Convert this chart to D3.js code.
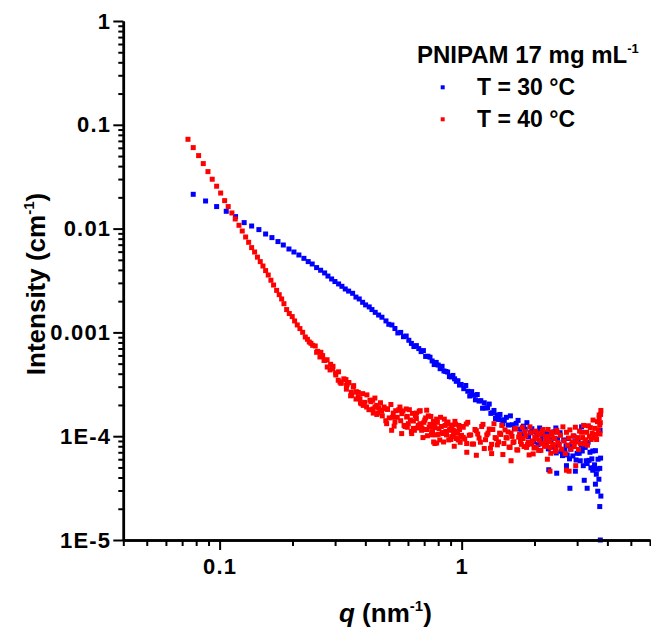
<!DOCTYPE html>
<html>
<head>
<meta charset="utf-8">
<script src="https://cdn.jsdelivr.net/npm/d3@7/dist/d3.min.js"></script>
<style>
    body { margin: 0; background: #fff; }
    text { font-family: Arial, "Liberation Sans", sans-serif; font-weight: bold; fill: #000; }
</style>
</head>
<body>
<script>
    // SAXS curves, [q (nm-1), intensity (cm-1)]
    var t30 = [
        [0.0778,0.0214],[0.0875,0.01845],[0.0972,0.0163],[0.1065,0.01468],[0.1164,0.01305],[0.1263,0.01142],
        [0.1356,0.01059],[0.1453,0.00978],[0.1549,0.00887],[0.1645,0.00819],[0.1742,0.00750],[0.1833,0.00695],
        [0.1934,0.00636],[0.2028,0.00595],[0.2126,0.00557],[0.2230,0.00517],[0.2323,0.00481],[0.2413,0.00456],
        [0.2516,0.00421],[0.2614,0.00397],[0.2716,0.00374],[0.2803,0.00349],[0.2903,0.00327],[0.2995,0.00309],
        [0.3102,0.00293],[0.3201,0.00278],[0.3304,0.00262],[0.3412,0.00250],[0.3544,0.00238],[0.3658,0.00219],
        [0.3775,0.00210],[0.3898,0.00195],[0.4011,0.00184],[0.4151,0.00176],[0.4259,0.00166],[0.4395,0.00156],
        [0.4539,0.00147],[0.4684,0.00140],[0.4867,0.00129],
        [0.500,0.001197],[0.515,0.001179],[0.530,0.001090],[0.545,0.000988],[0.560,0.001000],[0.575,0.000909],
        [0.590,0.000923],[0.605,0.000840],[0.620,0.000783],[0.635,0.000731],[0.650,0.000746],[0.665,0.000698],
        [0.680,0.000653],[0.695,0.000668],[0.710,0.000587],[0.725,0.000589],[0.740,0.000577],[0.755,0.000531],
        [0.770,0.000490],[0.785,0.000514],[0.800,0.000485],[0.815,0.000447],[0.830,0.000471],[0.845,0.000425],
        [0.860,0.000420],[0.875,0.000415],[0.890,0.000376],[0.905,0.000372],[0.920,0.000385],[0.935,0.000357],
        [0.950,0.000338],[0.965,0.000342],[0.980,0.000311],[0.995,0.000315],
        [1.02,2.87e-4],[1.04,3.08e-4],[1.06,2.71e-4],[1.08,2.44e-4],[1.10,2.69e-4],[1.12,2.48e-4],[1.14,2.24e-4],
        [1.16,2.52e-4],[1.18,2.18e-4],[1.20,2.20e-4],[1.22,1.86e-4],[1.24,2.10e-4],[1.26,1.87e-4],[1.28,1.88e-4],
        [1.30,2.04e-4],[1.32,1.66e-4],[1.34,1.68e-4],[1.36,1.77e-4],[1.38,1.48e-4],[1.40,1.60e-4],[1.42,1.45e-4],
        [1.44,1.62e-4],[1.46,1.44e-4],[1.48,1.31e-4],[1.50,1.42e-4],
        [1.53,1.52e-4],[1.56,1.28e-4],[1.59,1.57e-4],[1.62,1.29e-4],[1.65,1.18e-4],[1.68,1.33e-4],[1.71,1.42e-4],
        [1.74,1.17e-4],[1.77,1.05e-4],[1.80,1.25e-4],[1.83,1.17e-4],[1.86,1.35e-4],[1.89,9.9e-5],[1.92,1.08e-4],
        [1.95,1.18e-4],[1.98,8.8e-5],[2.01,1.11e-4],[2.04,9.9e-5],[2.07,8.3e-5],[2.10,1.20e-4],[2.13,9.1e-5],
        [2.16,1.01e-4],[2.19,8.35e-5],[2.22,1.08e-4],[2.25,8.9e-5],[2.28,7.55e-5],[2.31,1.07e-4],[2.34,9.25e-5],
        [2.37,7.85e-5],[2.40,1.10e-4],[2.43,8.0e-5],[2.46,6.9e-5],[2.49,9.4e-5],[2.52,8.3e-5],[2.55,1.08e-4],
        [2.58,7.15e-5],[2.61,6.5e-5],[2.64,9.2e-5],[2.67,7.3e-5],[2.70,8.1e-5],[2.73,6.6e-5],[2.76,9.5e-5],
        [2.79,6.05e-5],[2.82,7.5e-5],[2.85,8.3e-5],[2.88,6.45e-5],[2.91,1.0e-4],[2.94,8.85e-5],[2.97,5.9e-5],
        [3.00,6.85e-5],[3.03,9.0e-5],[3.06,6.85e-5],[3.09,5.8e-5],[3.12,7.8e-5],[3.15,7.2e-5],[3.18,5.2e-5],
        [3.21,8.6e-5],[3.24,7.8e-5],[3.27,5.8e-5],[3.30,5.45e-5],[3.33,8.75e-5],[3.36,5.85e-5],[3.39,7.0e-5],
        [3.42,4.95e-5],[3.45,6.05e-5],[3.48,7.2e-5],[3.51,4.95e-5],[3.54,5.3e-5],[3.57,7.25e-5],[3.60,4.3e-5],
        [3.63,4.8e-5],[3.66,6.0e-5],[3.69,3.85e-5],[3.72,4.9e-5],[3.75,6.15e-5],
        [2.80,3.15e-5],[2.95,4.6e-5],[3.21,3.76e-5],[3.30,3.15e-5],[3.57,3.45e-5],[3.65,2.95e-5],[3.76,2.65e-5],
        [3.72,2.1e-5],[3.74,1.0e-5],[2.29,4.75e-5],[2.47,4.4e-5],[2.71,5.2e-5],[3.48,4.7e-5],[2.45,1.2e-4],
        [3.13,1.23e-4],[3.73,1.14e-4],[2.10,1.12e-4]
    ];

    var t40 = [
        [0.0740,0.0725],[0.0778,0.0603],[0.0819,0.0505],[0.0856,0.0423],[0.0895,0.0354],[0.0932,0.0299],
        [0.0972,0.0256],[0.1010,0.0220],[0.1049,0.0186],[0.1085,0.0163],[0.1124,0.01414],[0.1160,0.01238],
        [0.1202,0.01076],[0.1240,0.00948],[0.1281,0.00830],[0.1318,0.00738],[0.1356,0.00656],[0.1395,0.00595],
        [0.1433,0.00531],[0.1472,0.00481],[0.1510,0.00436],[0.1549,0.00394],[0.1588,0.00357],[0.1629,0.00318],
        [0.1671,0.00286],[0.1720,0.00254],[0.1763,0.00231],[0.1804,0.00210],[0.1844,0.00189],[0.1892,0.00166],
        [0.1940,0.00152],[0.1995,0.00142],[0.2041,0.00129],[0.2093,0.00118],[0.2147,0.001088],[0.2203,0.001002],
        [0.2259,0.000903],
        [0.2306,0.000858],[0.2346,0.000808],[0.2384,0.000785],[0.2423,0.000751],[0.2483,0.000740],[0.2516,0.000643],
        [0.2597,0.000580],[0.2665,0.000598],[0.2724,0.000538],[0.2784,0.000464],[0.2875,0.000493],[0.2930,0.000448],
        [0.3015,0.000407],[0.3091,0.000346],[0.3142,0.000333],[0.3171,0.000326],[0.3326,0.000351],[0.3346,0.000309],
        [0.3368,0.000317],[0.3477,0.000245],[0.3512,0.000248],[0.3566,0.000298],[0.3658,0.000267],[0.3681,0.000267],
        [0.3739,0.000236],[0.3800,0.000229],[0.3862,0.000205],[0.3921,0.000198],[0.4050,0.000191],[0.4180,0.000222],
        [0.4288,0.000222],[0.4313,0.000167],[0.4383,0.000191],[0.4455,0.000198],[0.4509,0.000167],[0.4598,0.000178],
        [0.4672,0.000174],[0.4867,0.000184],[0.4899,0.000132],[0.5137,0.000114],[0.5217,0.000167],[0.5302,0.000137],
        [0.5560,0.000191],[0.5560,0.000178],[0.5651,0.000106],[0.5926,0.000153],[0.5960,0.000122],[0.6215,0.000106],
        [0.6310,0.000119],[0.6516,0.000167],[0.6725,0.000132],[0.6834,0.000114],[0.7169,0.000178],[0.7516,0.000109],
        [0.7631,0.000122],[0.7660,0.000088],[0.7750,0.000085],[0.7883,0.000086],[0.8394,0.000106],[0.8670,0.000132],
        [0.9094,0.000099],[0.9234,0.000114],[0.9535,0.000107],[1.0153,0.000122],[1.0488,0.000085],
        [0.254,6.57e-4],[0.262,6.43e-4],[0.270,5.38e-4],[0.278,5.45e-4],[0.286,4.35e-4],[0.294,4.71e-4],
        [0.302,3.89e-4],[0.310,4.17e-4],[0.318,3.24e-4],[0.326,3.57e-4],[0.334,2.84e-4],[0.342,3.29e-4],
        [0.350,2.65e-4],[0.358,3.07e-4],[0.366,2.28e-4],[0.374,2.64e-4],[0.382,2.09e-4],[0.390,2.57e-4],
        [0.398,2.12e-4],[0.406,2.50e-4],[0.414,1.80e-4],[0.422,2.15e-4],[0.430,1.83e-4],[0.438,2.33e-4],
        [0.446,1.62e-4],[0.454,1.88e-4],[0.462,2.10e-4],[0.470,1.57e-4],[0.478,1.91e-4],[0.486,1.41e-4],
        [0.494,1.81e-4],[0.502,1.50e-4],[0.510,2.02e-4],[0.518,1.52e-4],[0.526,1.25e-4],[0.534,1.76e-4],
        [0.542,1.52e-4],[0.550,1.80e-4],
        [0.560,1.41e-4],[0.572,1.75e-4],[0.584,1.24e-4],[0.596,1.55e-4],[0.608,1.80e-4],[0.620,1.11e-4],
        [0.632,1.40e-4],[0.644,1.58e-4],[0.656,1.20e-4],[0.668,1.74e-4],[0.680,1.28e-4],[0.692,9.7e-5],
        [0.704,1.43e-4],[0.716,1.16e-4],[0.728,1.57e-4],[0.740,1.30e-4],[0.752,1.03e-4],[0.764,1.39e-4],
        [0.776,1.21e-4],[0.788,1.46e-4],[0.800,1.04e-4],[0.812,9.2e-5],[0.824,1.24e-4],[0.836,1.08e-4],
        [0.848,1.46e-4],[0.860,1.11e-4],[0.872,1.31e-4],[0.884,9.2e-5],[0.896,1.16e-4],[0.908,1.24e-4],
        [0.920,9.9e-5],[0.932,8.0e-5],[0.944,1.30e-4],[0.956,1.08e-4],[0.968,9.2e-5],[0.980,1.16e-4],[0.992,9.97e-5],
        [0.566,1.65e-4],[0.578,1.27e-4],[0.590,1.83e-4],[0.602,1.32e-4],[0.614,1.43e-4],[0.626,1.66e-4],
        [0.638,1.14e-4],[0.650,1.48e-4],[0.662,1.27e-4],[0.674,1.76e-4],[0.686,1.19e-4],[0.698,1.36e-4],
        [0.710,1.50e-4],[0.722,1.01e-4],[0.734,1.22e-4],[0.746,1.55e-4],[0.758,1.10e-4],[0.770,1.30e-4],
        [0.782,1.03e-4],[0.794,1.36e-4],[0.806,1.18e-4],[0.818,1.52e-4],[0.830,1.08e-4],[0.842,8.8e-5],
        [0.854,1.27e-4],[0.866,1.03e-4],[0.878,1.37e-4],[0.890,1.14e-4],[0.902,9.3e-5],[0.914,1.28e-4],
        [0.926,1.07e-4],[0.938,1.39e-4],[0.950,9.5e-5],[0.962,1.12e-4],[0.974,1.27e-4],[0.986,8.73e-5],[0.998,1.02e-4],
        [1.00,1.24e-4],[1.03,9.4e-5],[1.06,1.36e-4],[1.09,1.03e-4],[1.12,8.4e-5],[1.15,1.13e-4],[1.18,9.6e-5],
        [1.21,1.24e-4],[1.24,7.6e-5],[1.27,1.03e-4],[1.30,1.17e-4],[1.33,8.35e-5],[1.36,1.32e-4],[1.39,9.45e-5],
        [1.42,8.8e-5],[1.45,1.04e-4],[1.48,6.66e-5],[1.51,1.15e-4],[1.54,9.6e-5],[1.57,7.85e-5],[1.60,1.07e-4],
        [1.63,8.7e-5],[1.66,1.18e-4],[1.69,7.4e-5],[1.72,9.8e-5],[1.75,8.9e-5],[1.78,1.22e-4],[1.81,7.95e-5],
        [1.84,1.01e-4],[1.87,8.3e-5],[1.90,6.6e-5],[1.93,1.08e-4],[1.96,9.0e-5],[1.99,7.7e-5],[2.02,1.12e-4],
        [2.05,9.4e-5],[2.08,7.3e-5],[2.11,1.04e-4],[2.14,8.5e-5],[2.17,1.16e-4],[2.20,8.0e-5],[2.23,9.1e-5],
        [2.26,6.0e-5],[2.29,9.97e-5],[2.32,7.8e-5],[2.35,1.09e-4],[2.38,8.35e-5],[2.41,9.5e-5],[2.44,7.15e-5],
        [2.47,1.14e-4],[2.50,8.7e-5],[2.53,8.2e-5],[2.56,1.02e-4],[2.59,7.5e-5],[2.62,1.23e-4],[2.65,9.0e-5],
        [2.68,6.8e-5],[2.71,1.09e-4],[2.74,8.2e-5],[2.77,9.6e-5],[2.80,1.15e-4],[2.83,7.5e-5],[2.86,8.8e-5],
        [2.89,1.01e-4],[2.92,7.95e-5],[2.95,1.22e-4],[2.98,8.8e-5],[3.01,9.7e-5],[3.04,7.45e-5],[3.07,1.12e-4],
        [3.10,8.5e-5],[3.13,1.09e-4],[3.16,9.7e-5],[3.19,1.27e-4],[3.22,8.4e-5],[3.25,9.25e-5],[3.28,1.09e-4],
        [3.31,8.2e-5],[3.34,1.26e-4],[3.37,9.97e-5],[3.40,1.21e-4],[3.43,9.3e-5],[3.46,1.07e-4],[3.49,1.43e-4],
        [3.52,9.7e-5],[3.55,1.19e-4],[3.58,1.04e-4],[3.61,9.3e-5],[3.64,1.38e-4],[3.67,1.15e-4],[3.70,1.5e-4],
        [3.73,1.05e-4],[3.76,1.77e-4],
        [1.015,9.75e-5],[1.045,1.31e-4],[1.075,1.02e-4],[1.105,8.4e-5],[1.135,1.16e-4],[1.165,1.05e-4],
        [1.195,8.75e-5],[1.225,1.30e-4],[1.255,9.25e-5],[1.285,1.07e-4],[1.315,7.65e-5],[1.345,1.16e-4],
        [1.375,9.7e-5],[1.405,8.25e-5],[1.435,1.07e-4],[1.465,1.27e-4],[1.495,8.5e-5],[1.525,9.7e-5],
        [1.555,1.10e-4],[1.585,7.8e-5],[1.615,9.95e-5],[1.645,8.85e-5],[1.675,1.18e-4],[1.705,7.35e-5],
        [1.735,1.04e-4],[1.765,8.35e-5],[1.795,9.5e-5],[1.825,1.11e-4],[1.855,7.8e-5],[1.885,8.8e-5],
        [1.915,1.23e-4],[1.945,8.4e-5],[1.975,6.75e-5],[2.005,9.8e-5],[2.035,7.8e-5],[2.065,1.07e-4],
        [2.095,9.1e-5],[2.125,7.3e-5],[2.155,1.11e-4],[2.185,8.55e-5],[2.215,9.97e-5],[2.245,8.0e-5],
        [2.275,1.16e-4],[2.305,8.9e-5],[2.335,6.85e-5],[2.365,1.04e-4],[2.395,8.2e-5],[2.425,9.55e-5],
        [2.455,7.45e-5],[2.485,1.09e-4],
        [1.05,7.0e-5],[1.15,6.55e-5],[1.33,6.8e-5],[1.60,5.8e-5],[2.317,4.6e-5],[2.71,4.7e-5],[2.78,4.6e-5],
        [2.96,5.2e-5],[3.70,1.60e-4],[3.74,1.35e-4],[3.72,1.28e-4],[3.75,1.62e-4]
    ];

    // Axes: ticks and labels
    var xMajor = [0.1, 1];
    var xLabels = ["0.1", "1"];
    var xMinor = [0.04, 0.05, 0.06, 0.07, 0.08, 0.09, 0.2, 0.3, 0.4, 0.5, 0.6, 0.7, 0.8, 0.9, 2, 3, 4, 5, 6];
    var yMajor = [1e-5, 1e-4, 1e-3, 1e-2, 0.1, 1];
    var yLabels = ["1E-5", "1E-4", "0.001", "0.01", "0.1", "1"];

    var series = [
        {name: "T = 30 \u00B0C", color: "#0000ff", data: t30},
        {name: "T = 40 \u00B0C", color: "#ff0000", data: t40}
    ];

    var SVGWidth = 651, SVGHeight = 630;

    var x = d3.scaleLog().domain([0.04, 6]).range([123.3, 650]);
    var y = d3.scaleLog().domain([1e-5, 1]).range([540, 21]);

    var svg = d3.select("body").append("svg")
        .attr("width", SVGWidth)
        .attr("height", SVGHeight);

    // Points (blue first, red on top)
    var ms = 5;
    series.forEach(function(s) {
        svg.append("g").selectAll("rect")
            .data(s.data)
            .enter().append("rect")
            .attr("x", function(d) { return x(d[0]) - ms / 2; })
            .attr("y", function(d) { return y(d[1]) - ms / 2; })
            .attr("width", ms)
            .attr("height", ms)
            .attr("fill", s.color);
    });

    // Y axis
    svg.append("g")
        .attr("transform", "translate(123.3,0)")
        .call(d3.axisLeft(y).tickValues(yMajor).tickFormat(function(d, i) { return yLabels[i]; })
            .tickSize(10).tickSizeOuter(0).tickPadding(2));
    svg.append("g")
        .attr("transform", "translate(123.3,0)")
        .call(d3.axisLeft(y).tickValues(d3.merge(yMajor.slice(0, 5).map(function(d) {
                return [2, 3, 4, 5, 6, 7, 8, 9].map(function(k) { return d * k; });
            }))).tickFormat("").tickSize(5).tickSizeOuter(0));

    // X axis
    svg.append("g")
        .attr("transform", "translate(0,540)")
        .call(d3.axisBottom(x).tickValues(xMajor).tickFormat(function(d, i) { return xLabels[i]; })
            .tickSize(10).tickSizeOuter(0).tickPadding(8));
    svg.append("g")
        .attr("transform", "translate(0,540)")
        .call(d3.axisBottom(x).tickValues(xMinor).tickFormat("").tickSize(6).tickSizeOuter(0));

    svg.selectAll(".domain").attr("stroke", "#000").attr("stroke-width", 2.5);
    svg.selectAll(".tick line").attr("stroke", "#000").attr("stroke-width", 2);
    svg.selectAll(".tick text")
        .style("font-size", "22px")
        .style("letter-spacing", "1.2px")
        .attr("fill", "#000");

    // Axis titles
    var yt = svg.append("text")
        .attr("transform", "translate(45,284) rotate(-90)")
        .attr("text-anchor", "middle")
        .style("font-size", "26px");
    yt.append("tspan").text("Intensity (cm");
    yt.append("tspan").attr("dy", -11).style("font-size", "15px").text("-1");
    yt.append("tspan").attr("dy", 11).text(")");

    var xt = svg.append("text")
        .attr("x", 339)
        .attr("y", 622)
        .style("font-size", "26px");
    xt.append("tspan").style("font-style", "italic").text("q");
    xt.append("tspan").text(" (nm");
    xt.append("tspan").attr("dy", -11).style("font-size", "15px").text("-1");
    xt.append("tspan").attr("dy", 11).text(")");

    // Legend
    var lt = svg.append("text")
        .attr("x", 417)
        .attr("y", 63)
        .style("font-size", "24px");
    lt.append("tspan").text("PNIPAM 17 mg mL");
    lt.append("tspan").attr("dy", -10).style("font-size", "13px").text("-1");

    series.forEach(function(s, i) {
        var ly = 87.3 + i * 32;
        svg.append("rect")
            .attr("x", 442.7 - 2)
            .attr("y", ly - 2)
            .attr("width", 4)
            .attr("height", 4)
            .attr("fill", s.color);
        svg.append("text")
            .attr("x", 477)
            .attr("y", ly + 8)
            .style("font-size", "23px")
            .text(s.name);
    });
</script>
</body>
</html>
